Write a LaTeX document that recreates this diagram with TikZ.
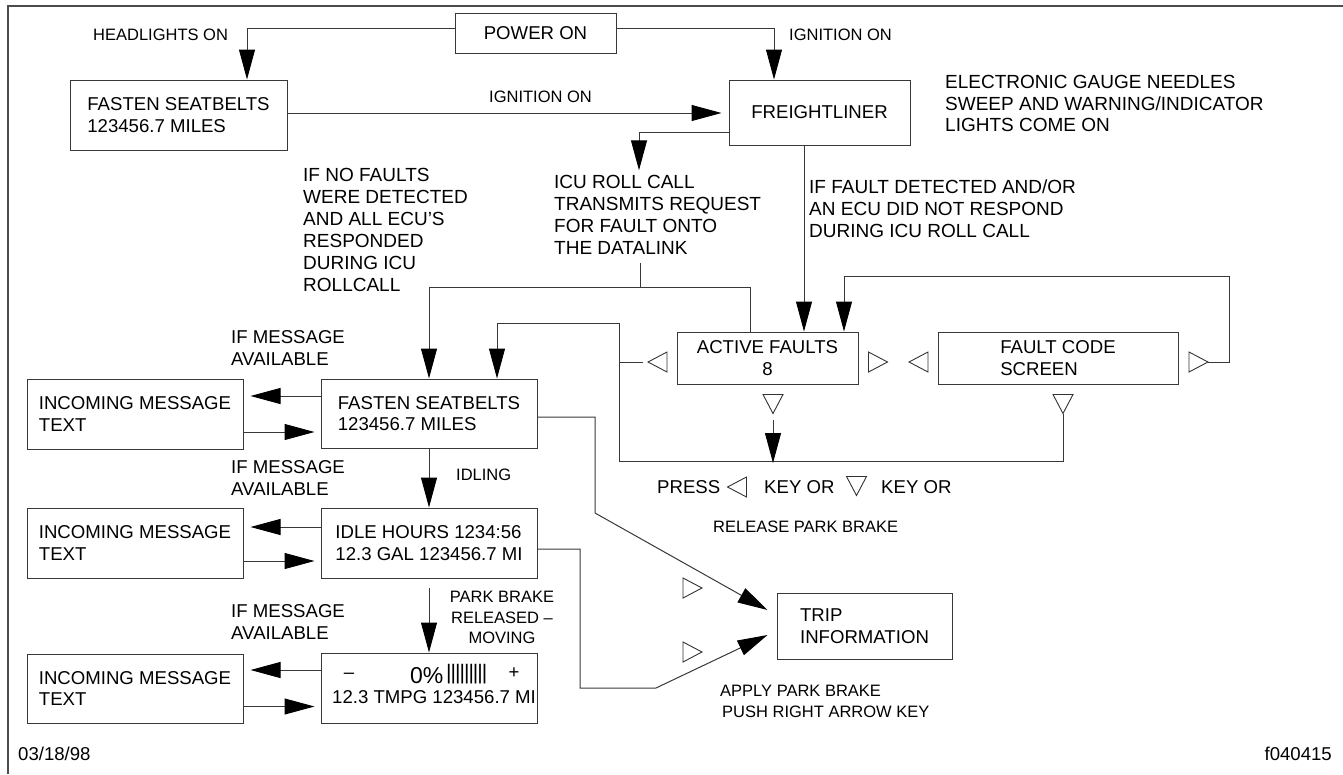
\documentclass[tikz,border=0pt]{standalone}
\usepackage{fontspec}
\setmainfont{Liberation Sans}
\usetikzlibrary{arrows.meta}
\newcommand\szA{\fontsize{19}{22}\selectfont}
\newcommand\szB{\fontsize{18.6}{21.5}\selectfont}
\newcommand\szC{\fontsize{16.5}{20.5}\selectfont}
\tikzset{
  tri/.style={draw=black!80, line width=0.9pt, line join=miter},
  pics/tril/.style={code={\draw[tri] (9.5,-10) -- (-9.5,0) -- (9.5,10) -- cycle; \coordinate (-tip) at (-9.5,0);}},
  pics/trir/.style={code={\draw[tri] (-9.5,-10) -- (9.5,0) -- (-9.5,10) -- cycle; \coordinate (-tip) at (9.5,0);}},
  pics/trid/.style={code={\draw[tri] (-10,-9.5) -- (0,9.5) -- (10,-9.5) -- cycle; \coordinate (-tip) at (0,9.5);}},
}
\begin{document}
\begin{tikzpicture}[x=1pt,y=-1pt,
  line/.style={draw=black!78, line width=1pt},
  arr/.style={line, -{Triangle[length=30pt,width=16pt,color=black]}},
  box/.style={line, rectangle, inner sep=0pt, align=left, font=\szB},
  txt/.style={inner sep=0pt, anchor=north west, align=left},
  frame/.style={draw=black!70, line width=1.5pt}]
\useasboundingbox (0,0) rectangle (1343,774);
\draw[frame] (8,774) -- (8,6) -- (1343,6);

% boxes
\node[box, minimum width=161pt, minimum height=40pt] (power) at (535.5,33) {POWER ON};
\node[box, minimum width=217pt, minimum height=70pt] (fasten1) at (178.5,115) {FASTEN SEATBELTS\\123456.7 MILES};
\node[box, minimum width=181pt, minimum height=65pt] (freight) at (819.5,112.5) {FREIGHTLINER};
\node[box, align=center, minimum width=181pt, minimum height=52pt] (active) at (767.5,358) {ACTIVE FAULTS\\8};
\node[box, minimum width=240pt, minimum height=52pt] (fault) at (1058,358) {FAULT CODE\\SCREEN};
\node[box, minimum width=216pt, minimum height=69pt] (fasten2) at (429,413.5) {FASTEN SEATBELTS\\123456.7 MILES};
\node[box, minimum width=216pt, minimum height=70pt] (inc1) at (135,414) {INCOMING MESSAGE\\TEXT};
\node[box, minimum width=216pt, minimum height=70pt] (idle) at (429,543) {IDLE HOURS 1234:56\\12.3 GAL 123456.7 MI};
\node[box, minimum width=216pt, minimum height=70pt] (inc2) at (135,543) {INCOMING MESSAGE\\TEXT};
\node[box, minimum width=216pt, minimum height=70pt] (speed) at (429,688) {};
\node[box, minimum width=216pt, minimum height=69pt] (inc3) at (135,688.5) {INCOMING MESSAGE\\TEXT};
\node[box, minimum width=175pt, minimum height=66pt] (trip) at (864.5,626) {TRIP\\INFORMATION};

% speed box contents
\node[inner sep=0pt, anchor=base, font=\szB] (sdash) at (349,678.5) {\textendash};
\node[inner sep=0pt, anchor=base west, font=\fontsize{23}{23}\selectfont] (spct) at (410,683) {0\%};
\node[inner sep=0pt, anchor=base west, font=\fontsize{21}{21}\selectfont] (sbar) at (446,679.5) {|\kern-1pt|\kern-1pt|\kern-1pt|\kern-1pt|\kern-1pt|\kern-1pt|\kern-1pt|\kern-1pt|};
\node[inner sep=0pt, anchor=base, font=\szB] (splus) at (514,678.5) {+};
\node[inner sep=0pt, anchor=west, font=\szB] (sline) at (332,697) {12.3 TMPG 123456.7 MI};

% triangles
\pic (tAl) at (657.5,362) {tril};
\pic (tAr) at (878,362) {trir};
\pic (tFl) at (918.5,362) {tril};
\pic (tFr) at (1198.5,362) {trir};
\pic (tAd) at (773,404) {trid};
\pic (tFd) at (1063,404) {trid};
\pic (tT1) at (692.5,588) {trir};
\pic (tT2) at (692.5,652) {trir};
\pic (tP1) at (737,487) {tril};
\pic (tP2) at (856.5,486) {trid};

% texts
\node[txt, font=\szC] (hl) at (93,29.2) {HEADLIGHTS ON};
\node[txt, font=\szC] (ign1) at (789,29.2) {IGNITION ON};
\node[txt, font=\szC] (ign2) at (489,91.2) {IGNITION ON};
\node[txt, font=\fontsize{19}{21.5}\selectfont] (elec) at (945,75.3) {ELECTRONIC GAUGE NEEDLES\\SWEEP AND WARNING/INDICATOR\\LIGHTS COME ON};
\node[txt, font=\szA] (nofault) at (303,168.3) {IF NO FAULTS\\WERE DETECTED\\AND ALL ECU'S\\RESPONDED\\DURING ICU\\ROLLCALL};
\node[txt, font=\szA] (icu) at (554,175.3) {ICU ROLL CALL\\TRANSMITS REQUEST\\FOR FAULT ONTO\\THE DATALINK};
\node[txt, font=\szA] (iffault) at (809,179.3) {IF FAULT DETECTED AND/OR\\AN ECU DID NOT RESPOND\\DURING ICU ROLL CALL};
\node[txt, font=\szB] (msg1) at (231,330.5) {IF MESSAGE\\AVAILABLE};
\node[txt, font=\szB] (msg2) at (231,460.5) {IF MESSAGE\\AVAILABLE};
\node[txt, font=\fontsize{18.6}{22}\selectfont] (msg3) at (231,604.5) {IF MESSAGE\\AVAILABLE};
\node[txt, font=\szC] (idling) at (456,469.2) {IDLING};
\node[inner sep=0pt, anchor=north, align=center, font=\szC] (park) at (502,591.2) {PARK BRAKE\\RELEASED \textendash\\MOVING};
\node[txt, font=\szB] (press) at (657,480.5) {PRESS};
\node[txt, font=\szB] (kor1) at (764,480.5) {KEY OR};
\node[txt, font=\szB] (kor2) at (881,480.5) {KEY OR};
\node[txt, font=\szC] (rel) at (713,521.2) {RELEASE PARK BRAKE};
\node[txt, font=\fontsize{16.5}{21}\selectfont] (apply) at (720,685.2) {APPLY PARK BRAKE\\\hspace*{2pt}PUSH RIGHT ARROW KEY};
\node[txt, font=\szB] (date) at (18,746.5) {03/18/98};
\node[inner sep=0pt, anchor=north east, font=\szB] (fig) at (1332,746.5) {f040415};

% coordinates
\coordinate (dlt) at (640,263);
\coordinate (dlj) at (640,287);
\coordinate (lp) at (619,461);
\coordinate (lt) at (619,323);
\coordinate (rl) at (1229,276);
\coordinate (k1) at (595,513);
\coordinate (k2) at (580,688);
\coordinate (k3) at (656,688);

% connectors
\draw[arr] ([yshift=5pt]power.west) -| ([xshift=68.5pt]fasten1.north);
\draw[arr] ([yshift=5pt]power.east) -| ([xshift=-45.5pt]freight.north);
\draw[arr, shorten >=7pt] ([yshift=2pt]fasten1.east) -- ([yshift=2pt]fasten1.east -| freight.west);
\draw[arr] ([yshift=-19.5pt]freight.west) -| ([xshift=85pt,yshift=5pt]icu.north west);
\draw[arr] ([xshift=-15.5pt]freight.south) -- ([xshift=36.5pt]active.north);
\draw[line] (dlt) -- (dlj);
\draw[arr] (dlj) -| (fasten2.north);
\draw[line] (dlj) -| ([xshift=-17.5pt]active.north);
\draw[arr] (tFd-tip) |- (lp) -- (lt) -| ([xshift=68pt]fasten2.north);
\draw[line] ([xshift=-5pt]tAl-tip) -- (tAl-tip -| lp);
\draw[arr] ([yshift=-6pt]tAd-tip) -- ([yshift=-2pt]tAd-tip |- lp);
\draw[arr] (tFr-tip) -| (rl) -| ([xshift=76.5pt]active.north);
% message arrows
\draw[arr, shorten >=7pt] ([yshift=17.5pt]fasten2.west) -- ([yshift=17.5pt]fasten2.west -| inc1.east);
\draw[arr, shorten >=6pt] ([yshift=-18pt]inc1.east) -- ([yshift=-18pt]inc1.east -| fasten2.west);
\draw[arr, shorten >=7pt] ([yshift=16pt]idle.west) -- ([yshift=16pt]idle.west -| inc2.east);
\draw[arr, shorten >=6pt] ([yshift=-18pt]inc2.east) -- ([yshift=-18pt]inc2.east -| idle.west);
\draw[arr, shorten >=7pt] ([yshift=18pt]speed.west) -- ([yshift=18pt]speed.west -| inc3.east);
\draw[arr, shorten >=6pt] ([yshift=-18pt]inc3.east) -- ([yshift=-18pt]inc3.east -| speed.west);
% vertical flow
\draw[arr] (fasten2.south) -- (idle.north);
\draw[arr] ([yshift=-9pt]idle.south) -- (speed.north);
% to trip
\draw[arr] ([yshift=-3.5pt]fasten2.east) -| (k1) -- ([xshift=-9pt,yshift=16pt]trip.west);
\draw[arr] ([yshift=-6pt]idle.east) -| (k2) -- (k3) -- ([xshift=-9pt,yshift=-9pt]trip.west);
\end{tikzpicture}
\end{document}
